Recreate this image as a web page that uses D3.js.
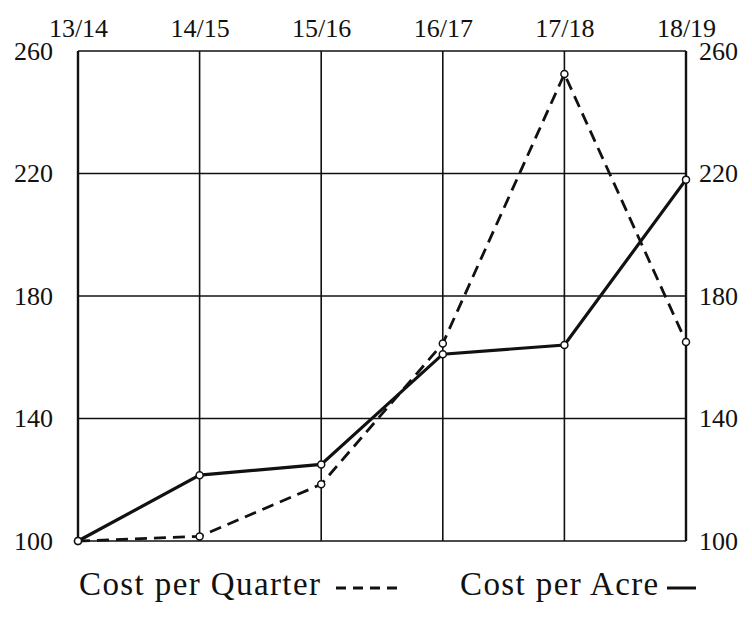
<!DOCTYPE html>
<html>
<head>
<meta charset="utf-8">
<script src="https://cdn.jsdelivr.net/npm/d3@7"></script>
<style>
  body { margin: 0; background: #fff; }
  text { font-family: "Liberation Serif", "DejaVu Serif", serif; fill: #111; }
</style>
</head>
<body>
<div id="chart"></div>
<script>
// data (index, 13/14 = 100)
var seasons = ["13/14", "14/15", "15/16", "16/17", "17/18", "18/19"];
var costPerQuarter = [100, 101.5, 118.5, 164.5, 252.5, 165];
var costPerAcre = [100, 121.5, 125, 161, 164, 218];
var yTicks = [100, 140, 180, 220, 260];

var margin = {top: 51, right: 66, bottom: 77, left: 78},
    width = 752 - margin.left - margin.right,
    height = 618 - margin.top - margin.bottom;

var svg = d3.select("#chart")
  .append("svg")
    .attr("width", 752)
    .attr("height", 618)
  .append("g")
    .attr("transform", "translate(" + margin.left + "," + margin.top + ")");

var x = d3.scalePoint()
  .domain(seasons)
  .range([0, width]);

var y = d3.scaleLinear()
  .domain([100, 260])
  .range([height, 0]);

// grid
svg.append("g")
  .selectAll("line")
  .data(yTicks)
  .enter()
  .append("line")
    .attr("x1", 0)
    .attr("x2", width)
    .attr("y1", function (d) { return y(d); })
    .attr("y2", function (d) { return y(d); })
    .attr("stroke", "#111")
    .attr("stroke-width", 1.6);

svg.append("g")
  .selectAll("line")
  .data(seasons)
  .enter()
  .append("line")
    .attr("x1", function (d) { return x(d); })
    .attr("x2", function (d) { return x(d); })
    .attr("y1", 0)
    .attr("y2", height)
    .attr("stroke", "#111")
    .attr("stroke-width", function (d, i) { return (i == 0 || i == seasons.length - 1) ? 2.4 : 1.6; });

// axes (labels only)
var topAxis = svg.append("g")
  .call(d3.axisTop(x).tickSize(0).tickPadding(14));
var leftAxis = svg.append("g")
  .call(d3.axisLeft(y).tickValues(yTicks).tickSize(0).tickPadding(25));
var rightAxis = svg.append("g")
  .attr("transform", "translate(" + width + ",0)")
  .call(d3.axisRight(y).tickValues(yTicks).tickSize(0).tickPadding(13));

[topAxis, leftAxis, rightAxis].forEach(function (a) {
  a.select(".domain").remove();
  a.selectAll("text")
    .style("font-family", "'Liberation Serif', serif")
    .style("font-size", "26px")
    .attr("fill", "#111");
});

// lines
var line = d3.line()
  .x(function (d, i) { return x(seasons[i]); })
  .y(function (d) { return y(d); });

svg.append("path")
  .datum(costPerQuarter)
  .attr("d", line)
  .attr("fill", "none")
  .attr("stroke", "#111")
  .attr("stroke-width", 2.8)
  .attr("stroke-dasharray", "12,7");

svg.append("path")
  .datum(costPerAcre)
  .attr("d", line)
  .attr("fill", "none")
  .attr("stroke", "#111")
  .attr("stroke-width", 3.2);

// point markers
[costPerQuarter, costPerAcre].forEach(function (series) {
  svg.append("g")
    .selectAll("circle")
    .data(series)
    .enter()
    .append("circle")
      .attr("cx", function (d, i) { return x(seasons[i]); })
      .attr("cy", function (d) { return y(d); })
      .attr("r", 3.5)
      .attr("fill", "#fff")
      .attr("stroke", "#111")
      .attr("stroke-width", 1.5);
});

// legend
var legend = svg.append("g")
  .attr("transform", "translate(0," + (height + 54) + ")");

legend.append("text")
  .attr("x", 1)
  .attr("y", 0)
  .style("font-size", "33px")
  .style("letter-spacing", "1.4px")
  .text("Cost per Quarter");
legend.append("line")
  .attr("x1", 258).attr("x2", 322)
  .attr("y1", -7).attr("y2", -7)
  .attr("stroke", "#111")
  .attr("stroke-width", 2.8)
  .attr("stroke-dasharray", "10,7");

legend.append("text")
  .attr("x", 382)
  .attr("y", 0)
  .style("font-size", "33px")
  .style("letter-spacing", "1.4px")
  .text("Cost per Acre");
legend.append("line")
  .attr("x1", 589).attr("x2", 618)
  .attr("y1", -7).attr("y2", -7)
  .attr("stroke", "#111")
  .attr("stroke-width", 3);
</script>
</body>
</html>
